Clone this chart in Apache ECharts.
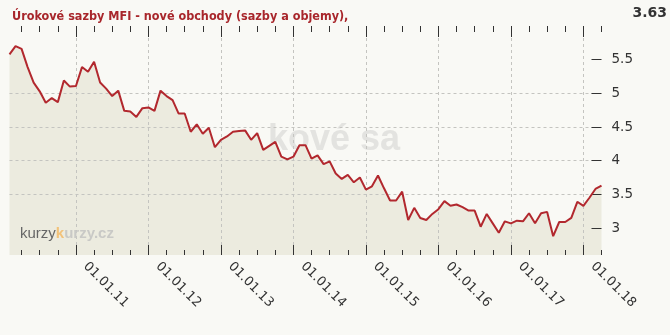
<!DOCTYPE html>
<html><head><meta charset="utf-8">
<script src="https://cdn.jsdelivr.net/npm/echarts@6/dist/echarts.min.js"></script>
<style>html,body{margin:0;padding:0;background:#f9f9f5}#c{width:670px;height:335px}</style>
</head><body><div id="c"></div>
<script>
const titleText = 'Úrokové sazby MFI - nové obchody (sazby a objemy),';
const lastValueText = '3.63';
const watermarkText = 'kové sa';
const months = [
  '2010-02','2010-03','2010-04','2010-05','2010-06','2010-07','2010-08','2010-09','2010-10','2010-11','2010-12',
  '2011-01','2011-02','2011-03','2011-04','2011-05','2011-06','2011-07','2011-08','2011-09','2011-10','2011-11','2011-12',
  '2012-01','2012-02','2012-03','2012-04','2012-05','2012-06','2012-07','2012-08','2012-09','2012-10','2012-11','2012-12',
  '2013-01','2013-02','2013-03','2013-04','2013-05','2013-06','2013-07','2013-08','2013-09','2013-10','2013-11','2013-12',
  '2014-01','2014-02','2014-03','2014-04','2014-05','2014-06','2014-07','2014-08','2014-09','2014-10','2014-11','2014-12',
  '2015-01','2015-02','2015-03','2015-04','2015-05','2015-06','2015-07','2015-08','2015-09','2015-10','2015-11','2015-12',
  '2016-01','2016-02','2016-03','2016-04','2016-05','2016-06','2016-07','2016-08','2016-09','2016-10','2016-11','2016-12',
  '2017-01','2017-02','2017-03','2017-04','2017-05','2017-06','2017-07','2017-08','2017-09','2017-10','2017-11','2017-12',
  '2018-01','2018-02','2018-03','2018-04'
];
const rates = [
  5.58,5.70,5.66,5.39,5.16,5.03,4.86,4.93,4.87,5.19,5.10,
  5.11,5.39,5.32,5.47,5.16,5.07,4.96,5.04,4.74,4.73,4.65,4.78,
  4.79,4.74,5.04,4.96,4.90,4.70,4.70,4.43,4.54,4.40,4.49,4.20,
  4.31,4.36,4.43,4.44,4.45,4.31,4.41,4.16,4.22,4.28,4.06,4.02,
  4.06,4.23,4.23,4.03,4.08,3.95,3.99,3.81,3.73,3.79,3.68,3.75,
  3.57,3.62,3.78,3.59,3.41,3.41,3.54,3.12,3.30,3.15,3.12,3.21,
  3.28,3.40,3.33,3.35,3.31,3.26,3.26,3.02,3.21,3.07,2.93,3.10,
  3.07,3.11,3.10,3.22,3.07,3.22,3.24,2.88,3.09,3.09,3.15,3.39,
  3.33,3.45,3.58,3.63
];
const yTicks = [3, 3.5, 4, 4.5, 5, 5.5];
const yearLabelPrefix = '01.01.';
const quarterMonths = ['01','04','07','10'];

const isYear = (i, v) => v.slice(5) === '01';
const isQuarter = (i, v) => quarterMonths.indexOf(v.slice(5)) >= 0;
const FONT = 'DejaVu Sans';
const gridBox = {left: 9.5, right: 68.5, top: 26, bottom: 80, containLabel: false, outerBoundsMode: 'none'};

function xAx(grid, pos, len, intervalFn, withLabels) {
  return {
    type: 'category', gridIndex: grid, position: pos, data: months, boundaryGap: false,
    z: 3,
    axisLine: {show: false, onZero: false},
    axisTick: {show: true, inside: true, length: len, interval: intervalFn, lineStyle: {color: '#333', width: 1}},
    axisLabel: withLabels ? {
      show: true, interval: isYear, rotate: -45, margin: 9, color: '#333',
      fontFamily: FONT, fontSize: 13, align: 'left', verticalAlign: 'bottom', padding: [0, 0, 0, 7],
      formatter: v => yearLabelPrefix + v.slice(2, 4)
    } : {show: false},
    splitLine: withLabels ? {show: true, interval: isYear, lineStyle: {type: [3, 3], color: '#c4c4c0', width: 1}} : {show: false}
  };
}

const chart = echarts.init(document.getElementById('c'), null, {renderer: 'canvas'});
chart.setOption({
  backgroundColor: '#f9f9f5',
  animation: false,
  title: {
    text: titleText, left: 7, top: 5,
    textStyle: {color: '#a8262b', fontFamily: '"DejaVu Sans Condensed", "DejaVu Sans"', fontSize: 12.5, fontWeight: 'bold'}
  },
  graphic: [
    {type: 'text', right: 3, top: 6, z: 10,
     style: {text: lastValueText, fill: '#333', font: 'bold 14px "DejaVu Sans"'}},
    {type: 'text', left: 268, top: 122, z: 0, zlevel: 0,
     style: {text: watermarkText, fill: '#e3e3e0', font: 'bold 36px "Liberation Sans"'}},
    {type: 'text', left: 20, top: 226, z: 10,
     style: {
       text: '{a|kurzy}{b|k}{c|urzy.cz}',
       rich: {
         a: {fill: '#666', font: '15px "Liberation Sans"'},
         b: {fill: '#f2c27a', font: 'bold 15px "Liberation Sans"'},
         c: {fill: '#c9c9c6', font: 'bold 15px "Liberation Sans"'}
       }
     }}
  ],
  grid: [Object.assign({}, gridBox), Object.assign({}, gridBox)],
  xAxis: [
    xAx(0, 'bottom', 10, isYear, true),
    xAx(0, 'top', 11, isYear, false),
    xAx(1, 'bottom', 5, isQuarter, false),
    xAx(1, 'top', 6, isQuarter, false)
  ],
  yAxis: [
    {
      type: 'value', gridIndex: 0, position: 'right', min: 2.6, max: 6, splitNumber: 5, z: 3,
      axisLine: {show: false},
      axisTick: {show: true, inside: true, length: 10, customValues: yTicks, lineStyle: {color: '#333'}},
      axisLabel: {
        show: true, margin: 10, color: '#333', fontFamily: FONT, fontSize: 13.5,
        customValues: yTicks,
        formatter: v => (yTicks.indexOf(Math.round(v * 10) / 10) >= 0 ? String(v) : '')
      },
      splitLine: {show: true, showMinLine: false, showMaxLine: false, lineStyle: {type: [3, 3], color: '#c4c4c0', width: 1}}
    },
    {type: 'value', gridIndex: 1, min: 2.6, max: 6, show: false}
  ],
  series: [
    {
      type: 'line', xAxisIndex: 0, yAxisIndex: 0, data: rates, symbol: 'none', silent: true, z: 1,
      lineStyle: {width: 0, opacity: 0},
      areaStyle: {color: '#ecebdf', opacity: 1, origin: 'start'}
    },
    {
      type: 'line', xAxisIndex: 0, yAxisIndex: 0, data: rates, symbol: 'none', z: 5,
      lineStyle: {color: '#b2282e', width: 2}
    }
  ]
});
</script>
</body></html>
